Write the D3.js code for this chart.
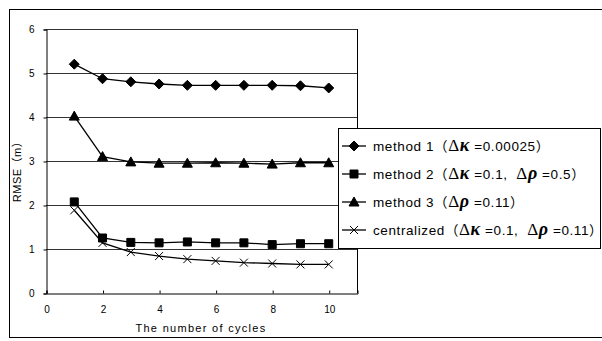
<!DOCTYPE html>
<html>
<head>
<meta charset="utf-8">
<script src="https://cdn.jsdelivr.net/npm/d3@7"></script>
<style>
  body { margin: 0; background: #fff; }
  text { font-family: "Liberation Sans", "Noto Sans CJK JP", sans-serif; fill: #000; }
</style>
</head>
<body>
<div id="chart"></div>
<script>
    // data
    var cycles = [1, 2, 3, 4, 5, 6, 7, 8, 9, 10];
    var method1 = [5.2, 4.87, 4.8, 4.75, 4.72, 4.72, 4.72, 4.72, 4.71, 4.66];
    var method2 = [2.07, 1.25, 1.15, 1.14, 1.16, 1.14, 1.14, 1.1, 1.12, 1.12];
    var method3 = [4.02, 3.1, 2.98, 2.95, 2.95, 2.96, 2.95, 2.93, 2.96, 2.96];
    var centralized = [1.88, 1.14, 0.93, 0.84, 0.77, 0.73, 0.69, 0.67, 0.65, 0.65];
    var xTicks = [0, 2, 4, 6, 8, 10];
    var yTicks = [0, 1, 2, 3, 4, 5, 6];

    var series = [
      {name: "method 1", values: method1, marker: "diamond",
        label: [["method 1（", 0], ["Δ", 0], ["κ", 1], [" =0.00025）", 0]]},
      {name: "method 2", values: method2, marker: "square",
        label: [["method 2（", 0], ["Δ", 0], ["κ", 1], [" =0.1,\u00a0\u00a0", 0], ["Δ", 0], ["ρ", 1], [" =0.5）", 0]]},
      {name: "method 3", values: method3, marker: "triangle",
        label: [["method 3（", 0], ["Δ", 0], ["ρ", 1], [" =0.11）", 0]]},
      {name: "centralized", values: centralized, marker: "cross",
        label: [["centralized（", 0], ["Δ", 0], ["κ", 1], [" =0.1,\u00a0\u00a0", 0], ["Δ", 0], ["ρ", 1], [" =0.11）", 0]]}
    ];

    var svg = d3.select("#chart").append("svg").attr("width", 602).attr("height", 341);

    // outer frame
    svg.append("rect").attr("x", 9.5).attr("y", 9.5).attr("width", 610).attr("height", 328)
      .style("fill", "none").style("stroke", "#000").style("stroke-width", 1);

    var x = d3.scaleLinear().domain([0, 11]).range([46, 357]);
    var y = d3.scaleLinear().domain([0, 6]).range([293, 29]);

    // gridlines
    svg.selectAll("line.grid").data(yTicks.slice(1)).enter().append("line")
      .attr("x1", x(0)).attr("x2", x(11))
      .attr("y1", function(d) { return Math.round(y(d)) + 0.5; })
      .attr("y2", function(d) { return Math.round(y(d)) + 0.5; })
      .style("stroke", "#333").style("stroke-width", 1);

    // plot border
    svg.append("line").attr("x1", x(11) + 0.5).attr("x2", x(11) + 0.5).attr("y1", y(6)).attr("y2", y(0))
      .style("stroke", "#000");

    // axes
    var yAxis = d3.axisLeft(y).tickValues(yTicks).tickFormat(d3.format("d")).tickSize(3).tickPadding(9);
    var gy = svg.append("g").attr("transform", "translate(" + (x(0) + 0.5) + ",0.5)").call(yAxis);
    var xAxis = d3.axisBottom(x).tickValues(xTicks).tickFormat(d3.format("d")).tickSize(-3).tickPadding(12);
    var gx = svg.append("g").attr("transform", "translate(0.5," + (y(0) + 0.5) + ")").call(xAxis);
    [gx, gy].forEach(function(g) {
      g.select(".domain").style("stroke", "#000");
      g.selectAll(".tick line").style("stroke", "#000");
      g.selectAll(".tick text").style("font-size", "10px").style("font-family", "\"Liberation Sans\", sans-serif");
    });

    // axis titles
    svg.append("text").attr("x", 201).attr("y", 332)
      .attr("text-anchor", "middle").style("font-size", "11px").style("letter-spacing", "1.3px")
      .text("The number of cycles");
    svg.append("text").attr("transform", "translate(21,169) rotate(-90)")
      .attr("text-anchor", "middle").style("font-size", "11px").style("letter-spacing", "0.5px")
      .text("RMSE（m）");

    function markerPath(type) {
      if (type === "diamond") return "M0,-5L5,0L0,5L-5,0Z";
      if (type === "square") return "M-4,-4H4V4H-4Z";
      if (type === "triangle") return "M0,-5L5,4H-5Z";
      return "M-4,-4L4,4M-4,4L4,-4";
    }
    function drawMarker(g, type) {
      g.append("path").attr("d", markerPath(type))
        .style("fill", type === "cross" ? "none" : "#000")
        .style("stroke", "#000").style("stroke-width", 1);
    }

    var line = d3.line()
      .x(function(d, i) { return x(cycles[i]); })
      .y(function(d) { return y(d); });

    series.forEach(function(s) {
      svg.append("path").datum(s.values).attr("d", line)
        .style("fill", "none").style("stroke", "#000").style("stroke-width", 1.3);
      svg.selectAll("g.m-" + s.marker).data(s.values).enter().append("g")
        .attr("class", "m-" + s.marker)
        .attr("transform", function(d, i) { return "translate(" + x(cycles[i]) + "," + y(d) + ")"; })
        .each(function() { drawMarker(d3.select(this), s.marker); });
    });

    // legend
    var legend = svg.append("g").attr("transform", "translate(338,128)");
    legend.append("rect").attr("x", 0.5).attr("y", 0.5).attr("width", 262).attr("height", 120)
      .style("fill", "#fff").style("stroke", "#000");
    series.forEach(function(s, i) {
      var row = legend.append("g").attr("transform", "translate(0," + (18 + i * 28) + ")");
      row.append("line").attr("x1", 4).attr("x2", 28).attr("y1", 0).attr("y2", 0)
        .style("stroke", "#000").style("stroke-width", 1.3);
      drawMarker(row.append("g").attr("transform", "translate(16,0)"), s.marker);
      var t = row.append("text").attr("x", 35).attr("y", 5)
        .style("font-size", "13.5px").style("letter-spacing", "0.6px");
      s.label.forEach(function(p) {
        var ts = t.append("tspan").text(p[0]);
        if (p[1]) ts.style("font-family", "\"Liberation Serif\", serif").style("font-style", "italic")
          .style("font-weight", "bold").style("font-size", "18px");
        else if (p[0] === "Δ") ts.style("font-family", "\"Liberation Serif\", serif").style("font-size", "17px");
      });
    });
</script>
</body>
</html>
